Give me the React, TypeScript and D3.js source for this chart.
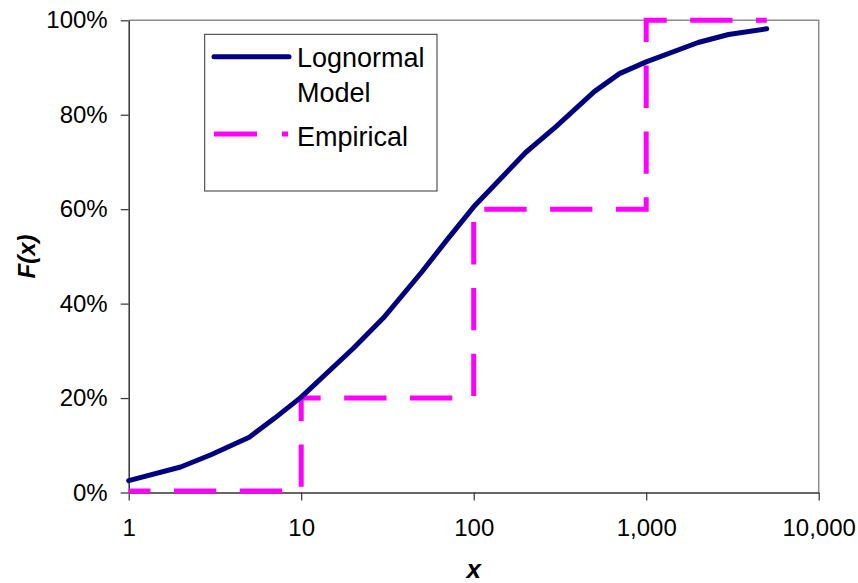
import React, { useEffect, useRef } from "react";
import * as d3 from "d3";

// lognormal model CDF
const modelX = [1, 2, 3, 5, 7, 10, 20, 30, 50, 70, 100, 200, 300, 500, 700, 1000, 2000, 3000, 5000];
const modelF = [0.025, 0.054, 0.08, 0.117, 0.157, 0.202, 0.305, 0.37, 0.467, 0.535, 0.605, 0.72, 0.775, 0.849, 0.887, 0.912, 0.953, 0.97, 0.982];

// empirical step function
const empiricalX = [1, 10, 10, 100, 100, 1000, 1000, 5000];
const empiricalF = [0.003, 0.003, 0.2, 0.2, 0.6, 0.6, 1, 1];

const xTicks = [1, 10, 100, 1000, 10000];
const yTicks = [0, 0.2, 0.4, 0.6, 0.8, 1];

const W = 858;
const H = 583;
const margin = { top: 20.3, right: 39.3, bottom: 90.5, left: 128.7 };
const FONT = "'Liberation Sans', Arial, sans-serif";

export default function App() {
  const svgRef = useRef<SVGSVGElement>(null);

  useEffect(() => {
    const svg = d3.select(svgRef.current);
    svg.selectAll("*").remove();

    const x = d3.scaleLog().domain([1, 10000]).range([margin.left, W - margin.right]);
    const y = d3.scaleLinear().domain([0, 1]).range([H - margin.bottom, margin.top]);

    svg.append("rect").attr("width", W).attr("height", H).attr("fill", "#fff");

    // grey frame top/right
    svg
      .append("path")
      .attr("d", `M${x(1)},${y(1)}H${x(10000)}V${y(0)}`)
      .attr("fill", "none")
      .attr("stroke", "#8c8c8c")
      .attr("stroke-width", 1.5);

    const yAxis = svg
      .append("g")
      .attr("transform", `translate(${margin.left},0)`)
      .call(
        d3
          .axisLeft(y)
          .tickValues(yTicks)
          .tickSize(8)
          .tickSizeOuter(0)
          .tickPadding(13)
          .tickFormat((d) => `${Math.round(+d * 100)}%`)
      );

    const xAxis = svg
      .append("g")
      .attr("transform", `translate(0,${H - margin.bottom})`)
      .call(
        d3
          .axisBottom(x)
          .tickValues(xTicks)
          .tickSize(8)
          .tickSizeOuter(0)
          .tickPadding(18)
          .tickFormat((d) => d3.format(",")(+d))
      );

    [yAxis, xAxis].forEach((g) => {
      g.select(".domain").attr("stroke", "#333").attr("stroke-width", 1.5);
      g.selectAll(".tick line").attr("stroke", "#333").attr("stroke-width", 1.2);
      g.selectAll(".tick text")
        .attr("font-family", FONT)
        .attr("font-size", 24)
        .attr("fill", "#000");
    });

    // axis titles
    svg
      .append("text")
      .attr("transform", `translate(35,${(y(0) + y(1)) / 2}) rotate(-90)`)
      .attr("text-anchor", "middle")
      .attr("font-family", FONT)
      .attr("font-size", 24)
      .attr("font-weight", "bold")
      .attr("font-style", "italic")
      .text("F(x)");

    svg
      .append("text")
      .attr("x", (x(1) + x(10000)) / 2)
      .attr("y", 578)
      .attr("text-anchor", "middle")
      .attr("font-family", FONT)
      .attr("font-size", 26)
      .attr("font-weight", "bold")
      .attr("font-style", "italic")
      .text("x");

    const pathGen = d3
      .line<[number, number]>()
      .x((d) => x(d[0]))
      .y((d) => y(d[1]));

    svg
      .append("path")
      .attr("d", pathGen(empiricalX.map((v, i) => [v, empiricalF[i]])))
      .attr("fill", "none")
      .attr("stroke", "#ff00ff")
      .attr("stroke-width", 5)
      .attr("stroke-dasharray", "42.3,23.5")
      .attr("stroke-dashoffset", 20.5);

    svg
      .append("path")
      .attr("d", pathGen(modelX.map((v, i) => [v, modelF[i]])))
      .attr("fill", "none")
      .attr("stroke", "#000080")
      .attr("stroke-width", 5)
      .attr("stroke-linejoin", "round")
      .attr("stroke-linecap", "round");

    // legend
    const lg = svg.append("g");
    lg.append("rect")
      .attr("x", 204.7)
      .attr("y", 34.3)
      .attr("width", 232.3)
      .attr("height", 156.7)
      .attr("fill", "#fff")
      .attr("stroke", "#333")
      .attr("stroke-width", 1);

    lg.append("line")
      .attr("x1", 214)
      .attr("x2", 289)
      .attr("y1", 56.7)
      .attr("y2", 56.7)
      .attr("stroke", "#000080")
      .attr("stroke-width", 5)
      .attr("stroke-linecap", "round");

    lg.append("line")
      .attr("x1", 214)
      .attr("x2", 288)
      .attr("y1", 134)
      .attr("y2", 134)
      .attr("stroke", "#ff00ff")
      .attr("stroke-width", 5)
      .attr("stroke-dasharray", "43,25");

    const legendText = [
      ["Lognormal", 67],
      ["Model", 102],
      ["Empirical", 145.5],
    ] as const;
    legendText.forEach(([t, yy]) => {
      lg.append("text")
        .attr("x", 297)
        .attr("y", yy)
        .attr("font-family", FONT)
        .attr("font-size", 27)
        .attr("fill", "#000")
        .text(t);
    });
  }, []);

  return (
    <svg
      ref={svgRef}
      width={W}
      height={H}
      style={{ position: "absolute", left: 0, top: 0 }}
    />
  );
}
